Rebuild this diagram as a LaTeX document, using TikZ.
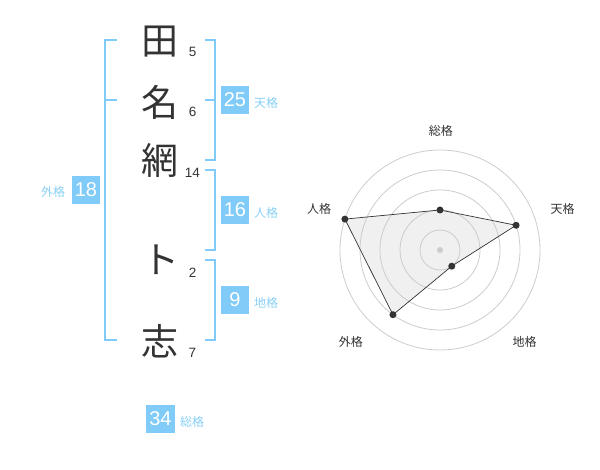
\documentclass[tikz,border=0pt]{standalone}
\usepackage{fontspec}
\setmainfont{Liberation Sans}
\newfontfamily\jp{Noto Sans CJK JP}
\definecolor{bl}{HTML}{80CBF8}
\definecolor{bltext}{HTML}{88D0F6}
\definecolor{dk}{HTML}{333333}
\begin{document}
\begin{tikzpicture}[x=1pt,y=-1pt,
 kanji/.style={font=\jp\fontsize{37}{37}\selectfont, text=dk, inner sep=0},
 strokes/.style={font=\fontsize{13.5}{13.5}\selectfont, text=dk, inner sep=0},
 numbox/.style={fill=bl, text=white, minimum width=28.5pt, minimum height=28.5pt, inner sep=0, font=\fontsize{20}{20}\selectfont},
 kaku/.style={font=\jp\fontsize{12}{12}\selectfont, text=bltext, inner sep=0},
 brk/.style={draw=bl, line width=2pt},
 ring/.style={draw=black!20, line width=0.8pt},
 rlabel/.style={font=\jp\fontsize{12}{12}\selectfont, text=dk, inner sep=0},
 rdot/.style={circle, fill=dk, inner sep=0, minimum size=7pt},
]
\useasboundingbox (0,0) rectangle (600,470);
% name characters
\node[kanji] (k1) at (160,42) {田};
\node[kanji] (k2) at (160,102) {名};
\node[kanji] (k3) at (160,160) {網};
\node[kanji] (k4) at (161,260) {ト};
\node[kanji] (k5) at (160,341) {志};
% stroke counts
\node[strokes] (n1) at (192.7,52.3) {5};
\node[strokes] (n2) at (192.7,112.3) {6};
\node[strokes] (n3) at (192.3,173.3) {14};
\node[strokes] (n4) at (192.7,272.7) {2};
\node[strokes] (n5) at (192.3,352.7) {7};
% brackets
\draw[brk] (117,40) -- (105,40) -- (105,340) -- (117,340);
\draw[brk] (105,100) -- (117,100);
\draw[brk] (205,40) -- (215,40) -- (215,160) -- (205,160);
\draw[brk] (205,100) -- (215,100);
\draw[brk] (205,170) -- (215,170) -- (215,250) -- (205,250);
\draw[brk] (205,260) -- (215,260) -- (215,340) -- (205,340);
% boxes
\node[numbox] (ten) at (235,100) {25};
\node[kaku] (tenl) at (266,103) {天格};
\node[numbox] (jin) at (235,210) {16};
\node[kaku] (jinl) at (266,213) {人格};
\node[numbox] (chi) at (235,300) {9};
\node[kaku] (chil) at (266,303) {地格};
\node[numbox] (gai) at (86,190) {18};
\node[kaku] (gail) at (53,191.5) {外格};
\node[numbox] (sou) at (160.5,419) {34};
\node[kaku] (soul) at (192,421.5) {総格};
% radar
\begin{scope}[shift={(440,250)}]
  \coordinate (rs) at (-90:40);
  \coordinate (rt) at (-18:80);
  \coordinate (rc) at (54:20);
  \coordinate (rg) at (126:80);
  \coordinate (rj) at (198:100);
  \fill[black!6] (rs) -- (rt) -- (rc) -- (rg) -- (rj) -- cycle;
  \foreach \r in {20,40,60,80,100} \draw[ring] (0,0) circle (\r);
  \draw[dk, line width=0.7pt] (rs) -- (rt) -- (rc) -- (rg) -- (rj) -- cycle;
  \node[circle, fill=black!20, inner sep=0, minimum size=6pt] (rcen) at (0,0) {};
  \foreach \p in {rs,rt,rc,rg,rj} \node[rdot] at (\p) {};
\end{scope}
\node[rlabel] (ls) at (440.8,130.5) {総格};
\node[rlabel] (lt) at (562.5,208.5) {天格};
\node[rlabel] (lc) at (524.7,342) {地格};
\node[rlabel] (lg) at (350.8,342) {外格};
\node[rlabel] (lj) at (319,208.5) {人格};
\end{tikzpicture}
\end{document}
